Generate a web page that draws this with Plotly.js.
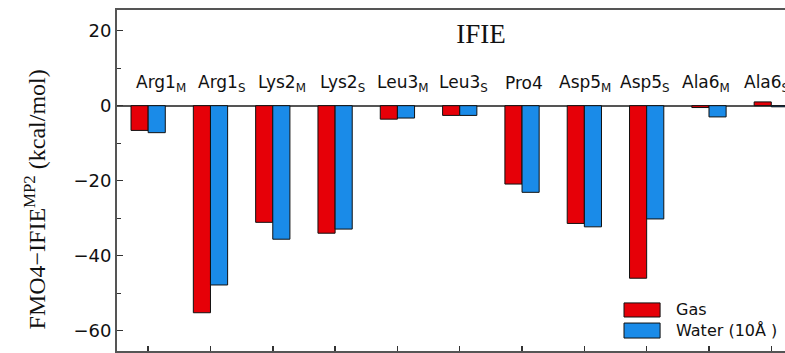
<!DOCTYPE html>
<html>
<head>
<meta charset="utf-8">
<script src="https://cdn.plot.ly/plotly-3.0.1.min.js"></script>
<style>html,body{margin:0;padding:0;overflow:hidden;background:#fff}</style>
</head>
<body>
<div id="chart" style="width:785px;height:353px"></div>
<script>
const categories = ["Arg1M","Arg1S","Lys2M","Lys2S","Leu3M","Leu3S","Pro4","Asp5M","Asp5S","Ala6M","Ala6S"];
const categoryLabels = ["Arg1<sub>M</sub>","Arg1<sub>S</sub>","Lys2<sub>M</sub>","Lys2<sub>S</sub>","Leu3<sub>M</sub>","Leu3<sub>S</sub>","Pro4","Asp5<sub>M</sub>","Asp5<sub>S</sub>","Ala6<sub>M</sub>","Ala6<sub>S</sub>"];
const gasValues   = [-6.6, -55.2, -31.1, -34.0, -3.6, -2.6, -20.9, -31.4, -46.0, -0.5, 1.0];
const waterValues = [-7.2, -47.8, -35.6, -32.9, -3.3, -2.6, -23.1, -32.3, -30.2, -3.0, -0.3];
const seriesNames = ["Gas", "Water (10Å )"];
const seriesColors = ["#e60008", "#1a8be8"];
const yTicks = [-60, -40, -20, 0, 20];
const labelY = 6.0;
const yTitle = "<span style=\"font-family:'Liberation Serif'\">FMO4−IFIE<sup>MP2</sup> (kcal/mol)</span>";

const traces = [
  {type:"bar", name:seriesNames[0], x:categories, y:gasValues,
   marker:{color:seriesColors[0], line:{color:"#111", width:1}}},
  {type:"bar", name:seriesNames[1], x:categories, y:waterValues,
   marker:{color:seriesColors[1], line:{color:"#111", width:1}}}
];

const annotations = categories.map((c, i) => ({
  x: c, y: labelY, xref:"x", yref:"y", text: categoryLabels[i], showarrow:false, xshift:13 - 1.8*i,
  font:{family:"DejaVu Sans", size:17, color:"#111"}, xanchor:"center", yanchor:"middle"
}));
// legend texts
const legX0 = 0.759, legX1 = 0.813;
const legRows = [[0.0997, 0.141], [0.038, 0.082]];
seriesNames.forEach((n, i) => {
  annotations.push({xref:"paper", yref:"paper", x:0.834, y:(legRows[i][0]+legRows[i][1])/2,
    text:n, showarrow:false, xanchor:"left", yanchor:"middle",
    font:{family:"DejaVu Sans", size:16, color:"#111"}});
});
// y axis title
annotations.push({xref:"paper", yref:"paper", x:-0.097, y:0.445, xanchor:"right", yanchor:"middle",
  textangle:-90, showarrow:false, text:yTitle,
  font:{family:"Liberation Serif", size:24, color:"#111"}});

const shapes = seriesNames.map((n, i) => ({
  type:"rect", xref:"paper", yref:"paper", x0:legX0, x1:legX1, y0:legRows[i][0], y1:legRows[i][1],
  fillcolor:seriesColors[i], line:{color:"#111", width:1}
}));

const layout = {
  width:785, height:353,
  margin:{l:117, r:0, t:10, b:2},
  paper_bgcolor:"#fff", plot_bgcolor:"#fff",
  barmode:"group", bargap:0.45, bargroupgap:0,
  showlegend:false,
  title:{text:"IFIE", font:{family:"Liberation Serif", size:27, color:"#111"},
         xref:"paper", x:0.545, xanchor:"center", yref:"container", y:0.905, yanchor:"middle"},
  xaxis:{type:"category", categoryorder:"array", categoryarray:categories,
         range:[-0.5, 10.22], showticklabels:false, ticks:"inside", ticklen:5, tickwidth:1.5, tickcolor:"#333",
         showline:true, linecolor:"#555", linewidth:2, mirror:true, showgrid:false, zeroline:false},
  yaxis:{range:[-65.4, 25.5], tickvals:yTicks, ticks:"inside", ticklen:6, tickwidth:1.5, tickcolor:"#333",
         minor:{dtick:10, ticks:"inside", ticklen:4, tickcolor:"#333", tickwidth:1.2},
         showline:true, linecolor:"#555", linewidth:2, mirror:false, showgrid:false,
         zeroline:true, zerolinecolor:"#555", zerolinewidth:1.8,
         tickfont:{family:"DejaVu Sans", size:18, color:"#111"}},
  annotations:annotations,
  shapes:shapes
};
Plotly.newPlot("chart", traces, layout, {displayModeBar:false, staticPlot:true});
</script>
</body>
</html>
